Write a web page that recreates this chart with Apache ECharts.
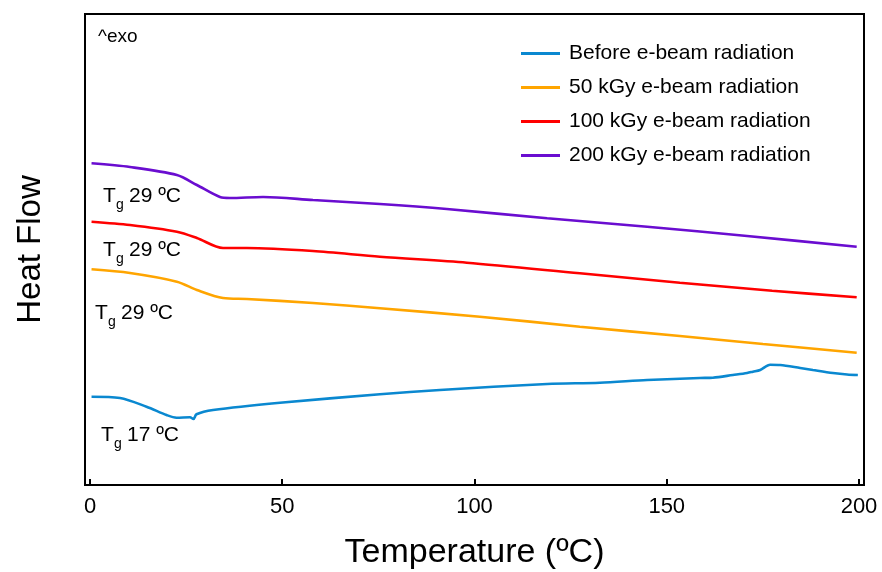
<!DOCTYPE html>
<html>
<head>
<meta charset="utf-8">
<script src="https://cdn.jsdelivr.net/npm/echarts@6/dist/echarts.min.js"></script>
<style>
html, body { margin: 0; padding: 0; background: #fff; }
#con { width: 882px; height: 572px; }
</style>
</head>
<body>
<div id="con"></div>
<script>
// 读图得到的数据 (温度 ºC, 热流 任意单位)
var seriesNames = ['Before e-beam radiation', '50 kGy e-beam radiation',
	'100 kGy e-beam radiation', '200 kGy e-beam radiation'];
var seriesColors = ['#0a88d0', '#ffa500', '#ff0000', '#6a0dd0'];
var xTicks = [0, 50, 100, 150, 200];

var before = [[0.4, 88.3], [7.8, 87], [14.7, 78.3], [19.9, 70], [22.5, 67.3], [26.0, 67.7],
	[26.9, 66], [27.7, 70.7], [32.0, 75], [49.4, 82.3], [75.4, 90.7], [91.0, 95],
	[118.9, 101], [132.6, 102.3], [144.9, 105], [158.6, 107], [162.0, 107.3], [167.2, 110],
	[170.9, 112], [172.4, 113.3], [174.3, 115], [176.9, 120.3], [179.5, 120], [184.7, 117],
	[188.0, 115], [193.2, 112], [196.9, 110.5], [199.7, 110]];
var kGy50 = [[0.4, 215.7], [10.4, 212], [22.6, 203.3], [27.8, 195], [34.6, 187], [40.8, 186],
	[58, 182], [75.4, 176.7], [101.4, 168.3], [127.4, 158.3], [153.4, 149], [175, 141], [199.4, 132.3]];
var kGy100 = [[0.4, 263.3], [10.4, 260], [22.6, 253.3], [27.8, 247], [34.6, 237], [40.8, 237],
	[58, 234], [75.4, 228.3], [98, 222.3], [127.4, 211.7], [153.4, 202.3], [177.4, 194.3], [199.4, 187.7]];
var kGy200 = [[0.4, 321.7], [10.4, 318], [22.6, 310], [27.8, 300], [33.8, 288], [36.4, 287],
	[45, 288], [58, 285], [75.4, 281], [92.8, 276], [118.9, 266.7], [144.9, 258.3],
	[170.9, 249], [199.4, 238.3]];
var allData = [before, kGy50, kGy100, kGy200];

var FONT = "'Liberation Sans', Arial, sans-serif";

// Tg 标注: T + 下标g + 温度, base 为基线
function tgLabel(x, base, temp) {
	return {
		type: 'group',
		children: [
			{ type: 'text', x: x, y: base + 4, style: { text: 'T', font: '21px ' + FONT, fill: '#000', verticalAlign: 'bottom' } },
			{ type: 'text', x: x + 13, y: base + 9, style: { text: 'g', font: '14px ' + FONT, fill: '#000', verticalAlign: 'bottom' } },
			{ type: 'text', x: x + 26, y: base + 4, style: { text: temp + ' ºC', font: '21px ' + FONT, fill: '#000', verticalAlign: 'bottom' } }
		]
	};
}

var myChart = echarts.init(document.getElementById('con'));

var series = [];
for (var i = 0; i < allData.length; i++) {
	series.push({
		name: seriesNames[i],
		type: 'line',
		data: allData[i],
		smooth: 0.3,
		symbol: 'none',
		lineStyle: { color: seriesColors[i], width: 2.6 },
		itemStyle: { color: seriesColors[i] }
	});
}

var option = {
	animation: false,
	backgroundColor: '#fff',
	textStyle: { fontFamily: FONT },
	grid: {
		left: 85, right: 18, top: 14, bottom: 87,
		containLabel: false,
		outerBoundsMode: 'none',
		show: true, borderColor: '#000', borderWidth: 2
	},
	legend: {
		orient: 'vertical',
		left: 521,
		top: 43,
		padding: 0,
		icon: 'rect',
		itemWidth: 39,
		itemHeight: 3,
		itemGap: 13,
		data: seriesNames,
		textStyle: { fontSize: 21, color: '#000', lineHeight: 20, padding: [0, 0, 0, 4], fontFamily: FONT }
	},
	xAxis: {
		type: 'value',
		min: -1.3,
		max: 201.3,
		name: 'Temperature (ºC)',
		nameLocation: 'middle',
		nameGap: 51,
		nameTextStyle: { fontSize: 34, color: '#000', fontFamily: FONT },
		axisLine: { lineStyle: { color: '#000', width: 2 } },
		axisTick: { inside: true, length: 6, lineStyle: { color: '#000', width: 2 }, customValues: xTicks },
		axisLabel: { fontSize: 22, color: '#000', margin: 11, customValues: xTicks, fontFamily: FONT },
		splitLine: { show: false }
	},
	yAxis: {
		type: 'value',
		min: 0,
		max: 471,
		name: 'Heat Flow',
		nameLocation: 'middle',
		nameGap: 38,
		nameTextStyle: { fontSize: 33, color: '#000', fontFamily: FONT },
		axisLine: { show: false },
		axisTick: { show: false },
		axisLabel: { show: false },
		splitLine: { show: false }
	},
	graphic: [
		{ type: 'text', x: 98, y: 46, style: { text: '^exo', font: '19px ' + FONT, fill: '#000', verticalAlign: 'bottom' } },
		tgLabel(103, 203, 29),
		tgLabel(103, 257, 29),
		tgLabel(95, 320, 29),
		tgLabel(101, 442, 17)
	],
	series: series
};

myChart.setOption(option);
</script>
</body>
</html>
